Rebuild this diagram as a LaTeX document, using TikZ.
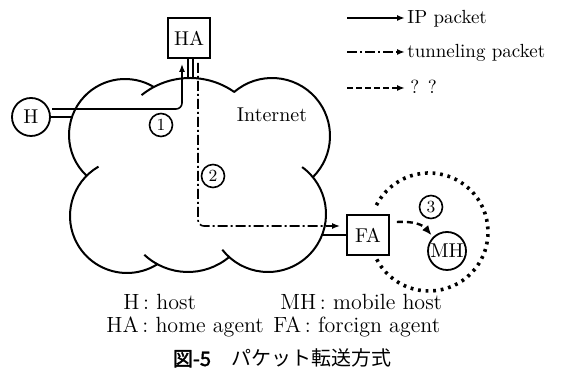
\documentclass[tikz,border=0pt]{standalone}
\usepackage{fontspec}
\usetikzlibrary{arrows.meta}
\newfontfamily\cjk{Noto Sans CJK JP}
\newfontfamily\cjkb[FakeBold=2]{Noto Sans CJK JP}
\begin{document}
\begin{tikzpicture}[x=0.5pt,y=-0.5pt,
  cloud/.style={line width=1pt},
  lnk/.style={line width=0.8pt},
  ip/.style={line width=0.8pt,-{Latex[length=4pt,width=3pt]}},
  tun/.style={line width=0.8pt,dash pattern=on 5pt off 1.5pt on 1pt off 1.5pt,-{Latex[length=4pt,width=3pt]}},
  qq/.style={line width=0.8pt,dash pattern=on 3pt off 1.5pt,-{Latex[length=4pt,width=3pt]}},
  mob/.style={line width=1.2pt,dash pattern=on 3pt off 2pt,-{Latex[length=5pt,width=4pt]}},
  wl/.style={line width=1.8pt,dash pattern=on 1.4pt off 2.4pt},
  box/.style={draw,line width=0.9pt,minimum width=21pt,minimum height=20pt,inner sep=0pt,font=\fontsize{10}{12}\selectfont},
  host/.style={draw,circle,line width=0.9pt,minimum size=19pt,inner sep=0pt,font=\fontsize{10}{12}\selectfont},
  num/.style={draw,circle,line width=0.8pt,minimum size=11.5pt,inner sep=0pt,font=\fontsize{8.5}{10}\selectfont},
  lg/.style={inner sep=0pt,font=\fontsize{9.5}{11}\selectfont},
  captxt/.style={inner sep=0pt,font=\fontsize{11}{13}\selectfont},
]
\useasboundingbox (0,0) rectangle (561,383);
% cloud lobes
\draw[cloud] (125,135) ++(133.5:56) arc[start angle=133.5,end angle=301,radius=56];
\draw[cloud] (190,155) ++(231:77) arc[start angle=231,end angle=305,radius=77];
\draw[cloud] (272,136) ++(229:58) arc[start angle=229,end angle=405,radius=58];
\draw[cloud] (268,214) ++(306:58) arc[start angle=306,end angle=502,radius=58];
\draw[cloud] (188,208) ++(133:64) arc[start angle=133,end angle=50,radius=64];
\draw[cloud] (127,216) ++(240:57) arc[start angle=240,end angle=58,radius=57];
\node[inner sep=0pt,font=\fontsize{10}{12}\selectfont] (inet) at (272,115) {Internet};
% nodes
\node[host] (H) at (31,117) {H};
\node[box] (HA) at (189,38) {HA};
\node[box] (FA) at (368,235) {FA};
\node[host] (MH) at (447,251) {MH};
\node[num] (n1) at (161,125) {1};
\node[num] (n2) at (213,176) {2};
\node[num] (n3) at (431,207) {3};
% links
\coordinate (hc) at (72,117);
\draw[lnk] (H.east) -- (hc);
\coordinate (ht1) at (188,78);
\coordinate (ht2) at (193,78);
\draw[lnk] (HA.south -| ht1) -- (ht1);
\draw[lnk] (HA.south -| ht2) -- (ht2);
\coordinate (fc) at (322,235);
\draw[lnk] (fc) -- (FA.west);
% packet paths
\coordinate (hs) at (52,109);
\draw[ip,rounded corners=3pt,shorten >=2.5pt] (hs) -| ([xshift=-3.5pt]HA.south);
\draw[tun,rounded corners=3pt,shorten <=2pt] ([xshift=4.5pt]HA.south) |- ([xshift=-3pt,yshift=4.5pt]FA.west);
\draw[mob,shorten >=1pt] ([xshift=3.5pt,yshift=6.5pt]FA.east) .. controls +(17,-1) and +(-10,-12) .. (MH.north west);
% wireless area
\draw[wl] (429,232) ++(207:59) arc[start angle=207,end angle=513,radius=59];
% legend
\coordinate (l1) at (347,18);
\coordinate (l2) at (347,52);
\coordinate (l3) at (347,88);
\node[lg,anchor=base west] (L1) at (407,24) {IP packet};
\node[lg,anchor=base west] (L2) at (407,58) {tunneling packet};
\node[lg,anchor=base west] (L3) at (410,94) {? ?};
\draw[ip,shorten >=1pt] (l1) -- (L1.west |- l1);
\draw[tun,shorten >=1pt] (l2) -- (L2.west |- l2);
\draw[qq,shorten >=2.5pt] (l3) -- (L3.west |- l3);
% captions
\node[captxt,anchor=base west] (d1) at (123,310) {H\,:\ host};
\node[captxt,anchor=base west] (d2) at (280,310) {MH\,:\ mobile host};
\node[captxt,anchor=base west] (d3) at (106,333) {HA\,:\ home agent};
\node[captxt,anchor=base west] (d4) at (273,333) {FA\,:\ forcign agent};
\node[inner sep=0pt,anchor=base,font=\fontsize{10}{12}\selectfont] (title) at (282,366) {{\cjkb 図-5}\hspace{1em}{\cjk パケット転送方式}};
\end{tikzpicture}
\end{document}
